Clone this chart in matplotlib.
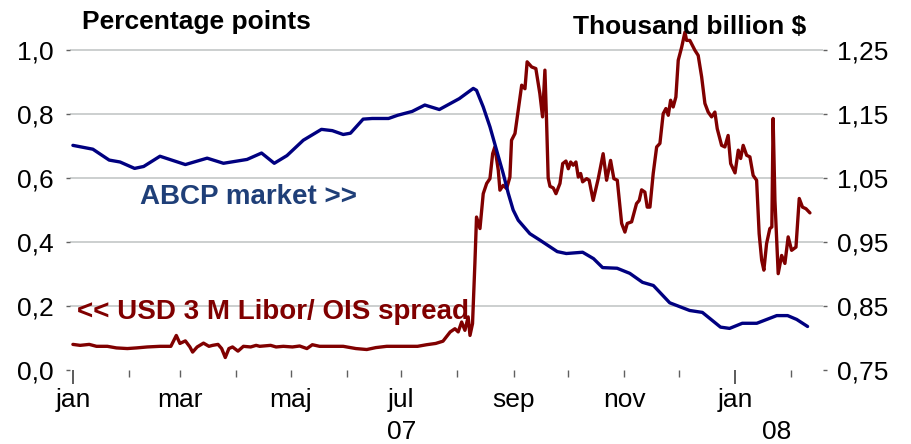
import matplotlib
matplotlib.use("Agg")
import matplotlib.pyplot as plt
import pandas as pd

plt.rcParams['font.family'] = ['Liberation Sans', 'DejaVu Sans']

# ---- data (days since 2007-01-01) ----
spread_days = [0, 4, 9, 13, 19, 24, 30, 35, 41, 48, 54, 57, 59, 62, 64.5, 66, 68.5, 72, 75, 77, 80, 82, 84, 86,
               88, 91, 94, 98, 101, 103, 109, 112, 116, 121, 125, 129, 132, 136, 142, 149, 156, 162, 167, 173,
               178, 184, 190, 195, 200, 204, 208, 210.6, 212.4, 214.3, 216.1, 217.9, 218.9, 220.3, 221.6, 222.5,
               224.4, 226.2, 228.1, 229.9, 231.4, 232.6, 234.5, 235.4, 237.2, 239.1, 240.9, 241.8, 243.7, 245.5,
               247.4, 249.2, 250.4, 252.9, 255.2, 257.4, 258.9, 260.2, 261.1, 262, 263, 264.8, 266.3, 268.5, 270,
               271.8, 273.1, 274.4, 275.8, 277.3, 278.6, 279.9, 281, 283.2, 284.6, 286.8, 289.6, 292.3, 294.2,
               296.4, 298.2, 300.1, 302.5, 304.3, 305.6, 308, 310.7, 312.2, 313.5, 315.3, 316.6, 318.1, 319.9,
               321.8, 323.6, 325.4, 326.9, 328.2, 329.5, 330.9, 332.4, 333.7, 335.6, 337.4, 338.3, 340.1, 342.9,
               344.7, 346.6, 348.4, 350.2, 352.1, 353.9, 355.2, 357.6, 359.4, 361.2, 362.6, 365, 366.8, 368.1,
               369.5, 371.4, 373.2, 375, 376.9, 378.3, 379.7, 380.9, 382.4, 384.2, 385.3, 386, 387, 388.8, 390.7,
               392.5, 394.3, 396.2, 398.6, 400.4, 402.2, 404.1, 406.3]
spread_vals = [0.080, 0.077, 0.080, 0.074, 0.074, 0.069, 0.067, 0.069, 0.072, 0.074, 0.074, 0.108, 0.083, 0.091,
               0.072, 0.056, 0.072, 0.084, 0.074, 0.077, 0.080, 0.067, 0.039, 0.067, 0.072, 0.059, 0.074, 0.072,
               0.077, 0.074, 0.077, 0.072, 0.074, 0.072, 0.075, 0.067, 0.079, 0.074, 0.074, 0.074, 0.067, 0.064,
               0.070, 0.074, 0.074, 0.074, 0.074, 0.079, 0.083, 0.090, 0.119, 0.129, 0.119, 0.150, 0.124, 0.166,
               0.108, 0.145, 0.333, 0.478, 0.442, 0.551, 0.583, 0.598, 0.676, 0.697, 0.624, 0.562, 0.577, 0.567,
               0.603, 0.718, 0.739, 0.812, 0.890, 0.879, 0.963, 0.947, 0.942, 0.864, 0.791, 0.937, 0.780, 0.600,
               0.574, 0.569, 0.551, 0.583, 0.645, 0.653, 0.629, 0.650, 0.640, 0.650, 0.603, 0.614, 0.588, 0.598,
               0.593, 0.530, 0.598, 0.676, 0.593, 0.655, 0.598, 0.593, 0.458, 0.431, 0.458, 0.463, 0.520, 0.530,
               0.563, 0.556, 0.509, 0.509, 0.614, 0.697, 0.708, 0.801, 0.817, 0.796, 0.843, 0.822, 0.853, 0.968,
               1.009, 1.056, 1.030, 1.030, 0.999, 0.983, 0.916, 0.833, 0.806, 0.791, 0.806, 0.754, 0.702, 0.697,
               0.733, 0.645, 0.616, 0.687, 0.661, 0.702, 0.671, 0.666, 0.608, 0.593, 0.426, 0.343, 0.312, 0.395,
               0.442, 0.447, 0.786, 0.530, 0.301, 0.358, 0.333, 0.416, 0.374, 0.384, 0.536, 0.509, 0.504, 0.491]

abcp_days = [0, 11, 20, 26, 34, 39, 48, 62, 74, 83, 96, 104, 111, 118, 127, 137, 143, 149, 153, 160, 165, 174,
             179, 187, 194, 202, 213, 220.7, 222.5, 226.2, 229.9, 233.6, 237.2, 240, 242.7, 245.5, 251.9, 257.4,
             267, 272, 281, 287, 292, 300, 307, 314, 320, 329, 340, 347, 357, 362, 369, 377, 388, 394, 399, 405]
abcp_vals = [1.101, 1.095, 1.078, 1.075, 1.065, 1.068, 1.084, 1.071, 1.081, 1.073, 1.079, 1.089, 1.073, 1.085,
             1.109, 1.126, 1.124, 1.118, 1.120, 1.142, 1.143, 1.143, 1.148, 1.154, 1.164, 1.157, 1.174, 1.190,
             1.187, 1.161, 1.130, 1.093, 1.057, 1.026, 1.000, 0.984, 0.963, 0.953, 0.935, 0.932, 0.934, 0.924,
             0.910, 0.909, 0.901, 0.887, 0.882, 0.855, 0.843, 0.840, 0.817, 0.815, 0.823, 0.823, 0.835, 0.835,
             0.829, 0.818]

left_ticks = [0.0, 0.2, 0.4, 0.6, 0.8, 1.0]
left_labels = ['0,0', '0,2', '0,4', '0,6', '0,8', '1,0']
right_ticks = [0.75, 0.85, 0.95, 1.05, 1.15, 1.25]
right_labels = ['0,75', '0,85', '0,95', '1,05', '1,15', '1,25']
month_labels = ['jan', 'mar', 'maj', 'jul', 'sep', 'nov', 'jan']
year_labels = ['07', '08']

start = pd.Timestamp('2007-01-01')
spread_dates = start + pd.to_timedelta(spread_days, unit='D')
abcp_dates = start + pd.to_timedelta(abcp_days, unit='D')

RED = '#800000'
BLUE = '#000080'
GRID = '#C8CCCC'

W, H = 911, 444
fig = plt.figure(figsize=(W / 100, H / 100), dpi=100)
x0, x1 = 70 / W, 823 / W
yb = 1 - 370 / H
ytop_val = 1.08
ax_h_px = ytop_val * 320
ax = fig.add_axes([x0, yb, x1 - x0, ax_h_px / H])
ax2 = ax.twinx()

ax.set_ylim(0, ytop_val)
ax2.set_ylim(0.75, 0.75 + 0.5 * ytop_val)
ax.set_xlim(start - pd.Timedelta(days=1.6), start + pd.Timedelta(days=413.5))

for s in list(ax.spines.values()) + list(ax2.spines.values()):
    s.set_visible(False)

for v in left_ticks[1:]:
    ax.axhline(v, color=GRID, lw=1.3, zorder=0)

ax.plot(spread_dates, spread_vals, color=RED, lw=2.4, zorder=3, clip_on=False,
        solid_joinstyle='round', solid_capstyle='round')
ax2.plot(abcp_dates, abcp_vals, color=BLUE, lw=2.4, zorder=3, clip_on=False,
         solid_joinstyle='round', solid_capstyle='round')

ax.set_yticks(left_ticks)
ax.set_yticklabels(left_labels)
ax2.set_yticks(right_ticks)
ax2.set_yticklabels(right_labels)
ax.tick_params(axis='y', length=3, width=1, color='#606060', pad=9, labelsize=19)
ax2.tick_params(axis='y', length=3, width=1, color='#606060', pad=7, labelsize=19)

# x ticks
month_starts = pd.date_range('2007-02-01', '2008-02-01', freq='MS')
ax.set_xticks(month_starts, minor=True)
major = pd.to_datetime(['2007-01-01', '2008-01-01'])
ax.set_xticks(major)
ax.set_xticklabels([''] * len(major))
ax.tick_params(axis='x', which='major', length=10, width=1.2, color='#404040')
ax.tick_params(axis='x', which='minor', length=5, width=1, color='#606060')
ax.xaxis.set_minor_formatter(plt.NullFormatter())

label_dates = pd.to_datetime(['2007-01-01', '2007-03-01', '2007-05-01', '2007-07-01',
                              '2007-09-01', '2007-11-01', '2008-01-01'])
year_dates = pd.to_datetime(['2007-07-01', '2008-01-24'])
trans = ax.get_xaxis_transform()
for d, lab in zip(label_dates, month_labels):
    ax.text(d, -30 / ax_h_px, lab, transform=trans, ha='center', va='center',
            fontsize=19, color='black')
for d, lab in zip(year_dates, year_labels):
    ax.text(d, -62 / ax_h_px, lab, transform=trans, ha='center', va='center',
            fontsize=19, color='black')

# titles
fig.text(82 / W, 1 - 22 / H, 'Percentage points', ha='left', va='center', fontsize=19,
         fontweight='bold', color='black')
fig.text(806 / W, 1 - 27 / H, 'Thousand billion $', ha='right', va='center', fontsize=19,
         fontweight='bold', color='black')

# series labels
fig.text(140 / W, 1 - 197 / H, 'ABCP market >>', ha='left', va='center', fontsize=20,
         fontweight='bold', color='#1F3F78')
fig.text(77 / W, 1 - 312 / H, '<< USD 3 M Libor/ OIS spread', ha='left', va='center', fontsize=20,
         fontweight='bold', color=RED)

fig.savefig('out.png', dpi=100)
